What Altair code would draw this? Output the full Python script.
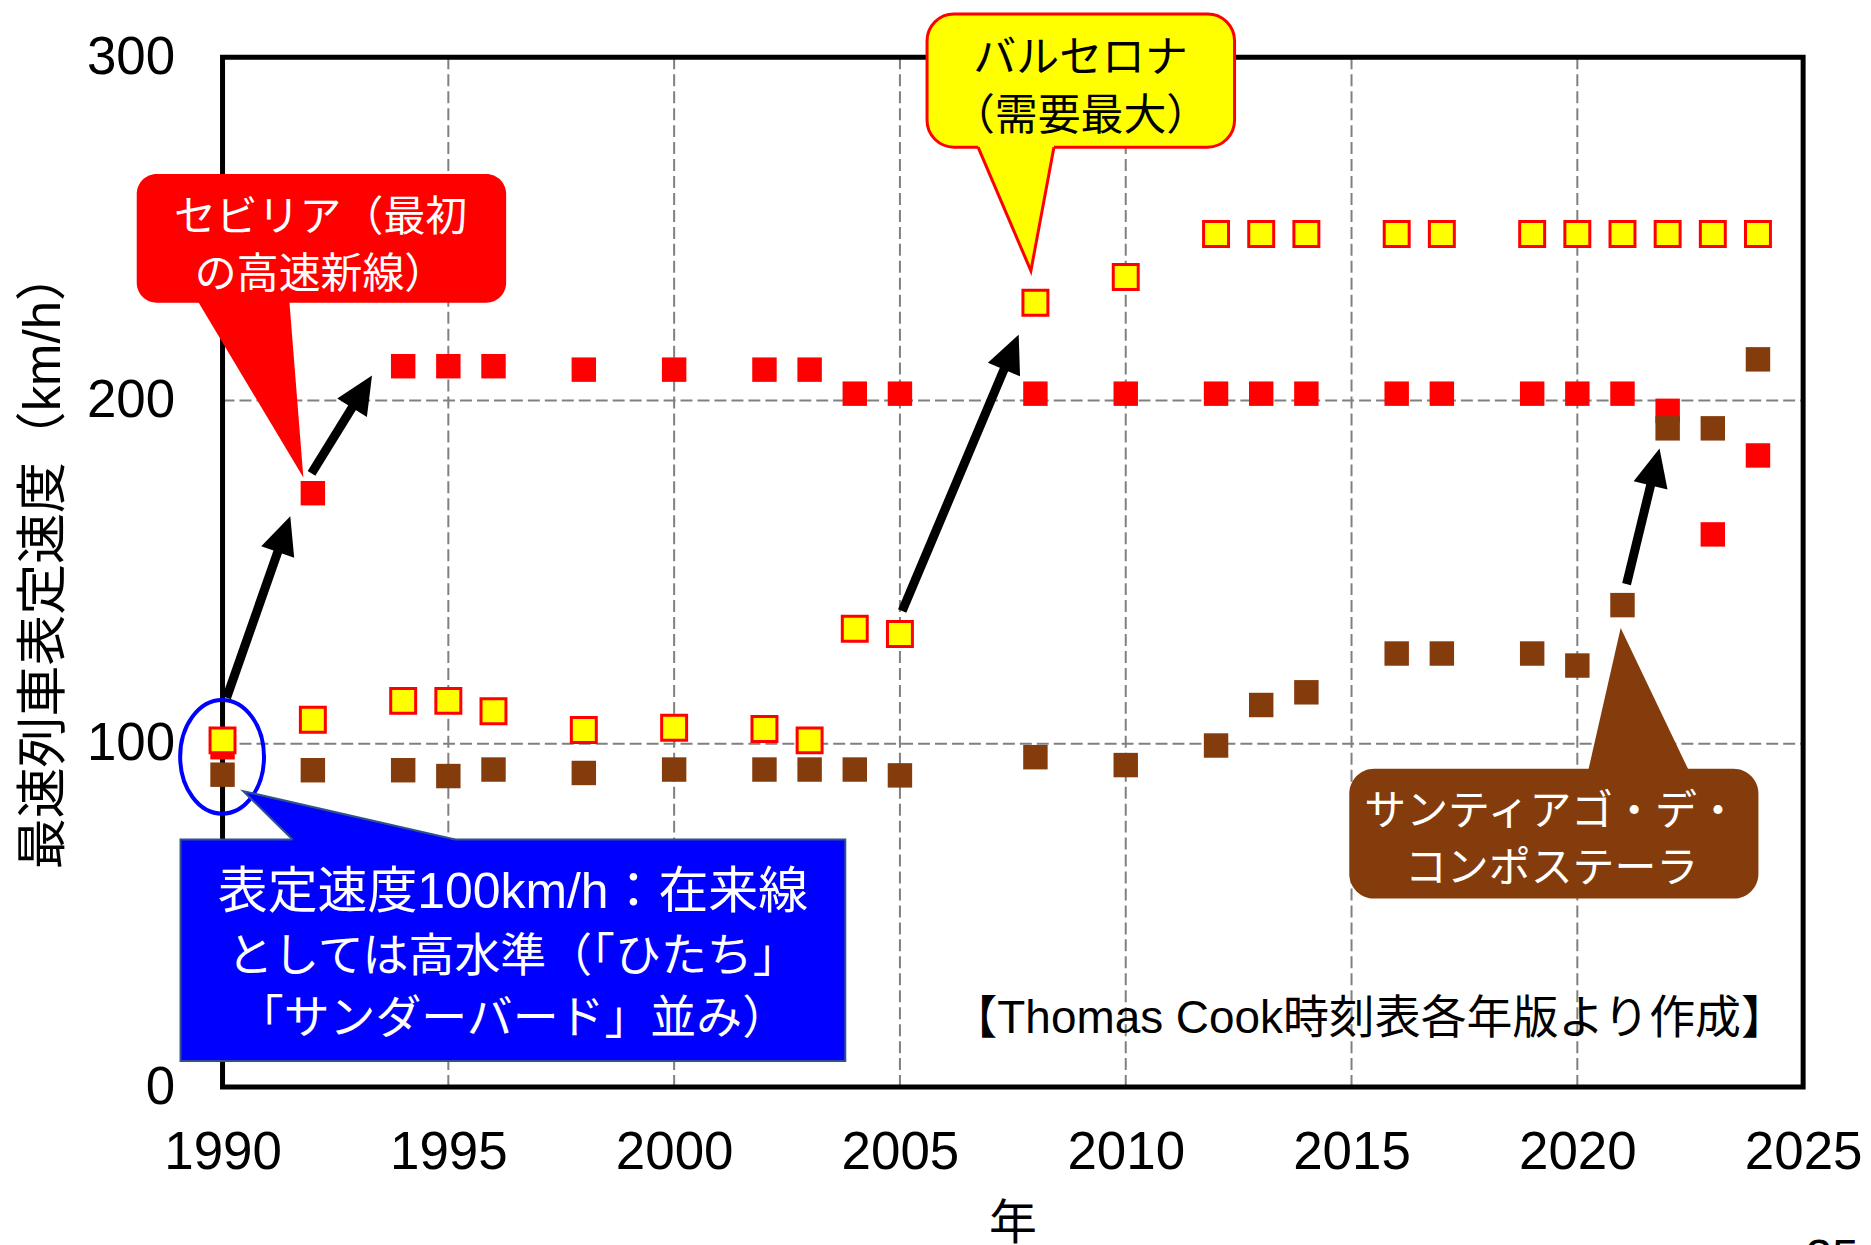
import math
import altair as alt
import pandas as pd

# ---------------- data ----------------
years = [1990, 1992, 1994, 1995, 1996, 1998, 2000, 2002, 2003, 2004, 2005, 2008, 2010,
         2012, 2013, 2014, 2016, 2017, 2019, 2020, 2021, 2022, 2023, 2024]
seville = [99, 173, 210, 210, 210, 209, 209, 209, 209, 202, 202, 202, 202,
           202, 202, 202, 202, 202, 202, 202, 202, 197, 161, 184]
barcelona = [101, 107, 112.5, 112.5, 109.5, 104, 104.7, 104.3, 101, 133.5, 132, 228.5, 236,
             248.5, 248.5, 248.5, 248.5, 248.5, 248.5, 248.5, 248.5, 248.5, 248.5, 248.5]
santiago = [91, 92.3, 92.3, 90.6, 92.5, 91.5, 92.5, 92.5, 92.5, 92.5, 90.8, 96.1, 93.8,
            99.5, 111.3, 115, 126.3, 126.3, 126.3, 122.8, 140.4, 191.9, 191.9, 212]

x_ticks = [1990, 1995, 2000, 2005, 2010, 2015, 2020, 2025]
y_ticks = [0, 100, 200, 300]
grid_years = [1995, 2000, 2005, 2010, 2015, 2020]
grid_values = [100, 200]

# annotation texts
red_lines = ["セビリア（最初", "の高速新線）"]
yellow_lines = ["バルセロナ", "（需要最大）"]
blue_lines = ["表定速度100km/h：在来線", "としては高水準（「ひたち」", "「サンダーバード」並み）"]
brown_lines = ["サンティアゴ・デ・", "コンポステーラ"]
source_text = "【Thomas Cook時刻表各年版より作成】"
x_title = "年"
y_title = "最速列車表定速度（km/h）"
page_no = "25"

# annotation anchors (data units: year, km/h)
red_text_x, red_text_y = 1992.17, [253.3, 236.7]
yellow_text_x, yellow_text_y = 2009.0, [299.4, 282.6]
blue_text_x, blue_text_y = 1996.43, [56.5, 37.9, 19.9]
brown_text_x, brown_text_y = 2019.43, [80.1, 63.5]
source_x, source_y = 2015.39, 19.7

boxes = {
    "red": [1988.10, 1996.28, 266.0, 228.5],
    "yellow": [2005.60, 2012.41, 312.6, 273.8],
    "blue": [1989.07, 2003.79, 72.1, 7.6],
    "brown": [2014.95, 2024.01, 92.7, 54.9],
}
# pointer rows: (y, x_left, x_right)
pointers = {
    "red": [(230.5, 1989.38, 1991.47), (177.6, 1991.79, 1991.79)],
    "yellow": [(275.3, 2006.73, 2008.41), (273.8, 2006.73, 2008.41), (237.8, 2007.90, 2007.90)],
    "blue": [(70.6, 1991.55, 1995.15), (72.1, 1991.55, 1995.15), (86.2, 1990.46, 1990.46)],
    "brown": [(91.3, 2020.25, 2022.45), (92.7, 2020.25, 2022.45), (133.7, 2020.96, 2020.96)],
}
yellow_outline = [(2006.73, 273.8), (2007.90, 237.8), (2008.41, 273.8)]
blue_outline = [(1991.55, 72.1), (1990.46, 86.2), (1995.15, 72.1)]

ellipse_center = (1989.99, 96.2)

arrow_x0 = [1990.09, 1991.97, 2005.05, 2021.09]
arrow_y0 = [113.4, 178.8, 138.7, 146.5]
arrow_x1 = [1991.50, 1993.31, 2007.63, 2021.82]
arrow_y1 = [166.3, 207.3, 219.2, 186.0]

# ---------------- styles ----------------
W, H = 1584, 1032
XMIN, XMAX, YMIN, YMAX = 1990, 2025, 0, 300
PX_X = W / (XMAX - XMIN)
PX_Y = H / (YMAX - YMIN)
FONT = "Liberation Sans, Noto Sans CJK JP"
RED, YELLOW, BLUE, BROWN = "#FF0000", "#FFFF00", "#0000FF", "#843C0C"

xs = alt.Scale(domain=[XMIN, XMAX], nice=False, zero=False)
ys = alt.Scale(domain=[YMIN, YMAX], nice=False, zero=False)

xaxis = alt.Axis(values=x_ticks, format="d", grid=False, ticks=False, domain=False,
                 labelFont="Liberation Sans", labelFontSize=53, labelColor="black",
                 labelPadding=40, labelFlush=False, labelOverlap=False,
                 title=x_title, titleFont=FONT, titleFontSize=48, titleFontWeight="normal",
                 titleColor="black", titleX=791.5, titleY=137.8, titleBaseline="middle",
                 titleAlign="center")
yaxis = alt.Axis(values=y_ticks, grid=False, ticks=False, domain=False,
                 labelFont="Liberation Sans", labelFontSize=53, labelColor="black",
                 labelPadding=48, labelFlush=False, labelOverlap=False,
                 title=y_title, titleFont=FONT, titleFontSize=51, titleFontWeight="normal",
                 titleColor="black", titleAngle=270, titleX=-178, titleY=503,
                 titleBaseline="middle", titleAlign="center")


def X(f, **kw):
    return alt.X(f, type="quantitative", scale=xs, axis=xaxis, **kw)


def Y(f, **kw):
    return alt.Y(f, type="quantitative", scale=ys, axis=yaxis, **kw)


# ---------------- layers ----------------
layers = []

# grid
gv = pd.DataFrame({"x": grid_years, "y0": [YMIN] * len(grid_years), "y1": [YMAX] * len(grid_years)})
layers.append(alt.Chart(gv).mark_rule(color="#808080", strokeWidth=2, strokeDash=[12, 5]).encode(
    x=X("x"), y=Y("y0"), y2="y1"))
gh = pd.DataFrame({"y": grid_values, "x0": [XMIN] * 2, "x1": [XMAX] * 2})
layers.append(alt.Chart(gh).mark_rule(color="#808080", strokeWidth=2, strokeDash=[12, 5]).encode(
    y=Y("y"), x=X("x0"), x2="x1"))

# border
bd = pd.DataFrame({"x0": [XMIN], "x1": [XMAX], "y0": [YMIN], "y1": [YMAX]})
layers.append(alt.Chart(bd).mark_rect(filled=False, stroke="black", strokeWidth=5).encode(
    x=X("x0"), x2="x1", y=Y("y0"), y2="y1"))

# series
df_red = pd.DataFrame({"year": years, "value": seville})
df_yel = pd.DataFrame({"year": years, "value": barcelona})
df_brn = pd.DataFrame({"year": years, "value": santiago})

layers.append(alt.Chart(df_red).mark_point(shape="square", filled=True, size=600, opacity=1,
                                           color=RED, strokeWidth=0).encode(
    x=X("year"), y=Y("value")))
layers.append(alt.Chart(df_yel).mark_point(shape="square", filled=True, size=625, opacity=1,
                                           fill=YELLOW, stroke=RED, strokeWidth=3).encode(
    x=X("year"), y=Y("value")))
layers.append(alt.Chart(df_brn).mark_point(shape="square", filled=True, size=600, opacity=1,
                                           color=BROWN, strokeWidth=0).encode(
    x=X("year"), y=Y("value")))

# blue ellipse
ELLIPSE = ("M0.737,0C0.737,0.552,0.407,1,0,1C-0.407,1,-0.737,0.552,-0.737,0"
           "C-0.737,-0.552,-0.407,-1,0,-1C0.407,-1,0.737,-0.552,0.737,0Z")
el = pd.DataFrame({"x": [ellipse_center[0]], "y": [ellipse_center[1]]})
layers.append(alt.Chart(el).mark_point(shape=ELLIPSE, filled=False, size=114 ** 2, opacity=1,
                                       stroke=BLUE, strokeWidth=4).encode(x=X("x"), y=Y("y")))

# arrows
HEAD = 38
shaft_rows, head_rows = [], []
for x0, y0, x1, y1 in zip(arrow_x0, arrow_y0, arrow_x1, arrow_y1):
    dxp = (x1 - x0) * PX_X
    dyp = -(y1 - y0) * PX_Y
    L = math.hypot(dxp, dyp)
    ux, uy = dxp / L, dyp / L
    ang = math.degrees(math.atan2(ux, -uy)) % 360
    hx = x1 - (HEAD / 2) * ux / PX_X
    hy = y1 + (HEAD / 2) * uy / PX_Y
    sx = x1 - (HEAD * 0.75) * ux / PX_X
    sy = y1 + (HEAD * 0.75) * uy / PX_Y
    shaft_rows.append({"x": x0, "y": y0, "x2": sx, "y2": sy})
    head_rows.append({"x": hx, "y": hy, "angle": ang})
layers.append(alt.Chart(pd.DataFrame(shaft_rows)).mark_rule(color="black", strokeWidth=9,
                                                            strokeCap="butt").encode(
    x=X("x"), y=Y("y"), x2="x2", y2="y2"))
HEADPATH = "M0,-1L0.92,1L-0.92,1Z"
layers.append(alt.Chart(pd.DataFrame(head_rows)).mark_point(shape=HEADPATH, filled=True,
                                                            size=HEAD ** 2, opacity=1,
                                                            color="black", strokeWidth=0).encode(
    x=X("x"), y=Y("y"), angle=alt.Angle("angle:Q", scale=None)))

# callout boxes
box_style = {
    "red": dict(color=RED, cornerRadius=20),
    "yellow": dict(fill=YELLOW, stroke=RED, strokeWidth=3, cornerRadius=27),
    "blue": dict(fill=BLUE, stroke="#2F528F", strokeWidth=2, cornerRadius=0),
    "brown": dict(color=BROWN, cornerRadius=25),
}
fill_of = {"red": RED, "yellow": YELLOW, "blue": BLUE, "brown": BROWN}
for k, (bx0, bx1, by0, by1) in boxes.items():
    d = pd.DataFrame({"x": [bx0], "x2": [bx1], "y": [by0], "y2": [by1]})
    layers.append(alt.Chart(d).mark_rect(opacity=1, **box_style[k]).encode(
        x=X("x"), x2="x2", y=Y("y"), y2="y2"))
    p = pd.DataFrame(pointers[k], columns=["y", "xl", "xr"])
    layers.append(alt.Chart(p).mark_area(orient="horizontal", color=fill_of[k], opacity=1,
                                         strokeWidth=0).encode(
        y=Y("y"), x=X("xl"), x2="xr"))

for pts, col, sw in [(yellow_outline, RED, 3), (blue_outline, "#2F528F", 2)]:
    d = pd.DataFrame({"x": [p[0] for p in pts], "y": [p[1] for p in pts], "o": list(range(len(pts)))})
    layers.append(alt.Chart(d).mark_line(color=col, strokeWidth=sw, strokeJoin="miter").encode(
        x=X("x"), y=Y("y"), order=alt.Order("o:Q")))


# texts
def text_layer(lines, x, ys_, size, color):
    d = pd.DataFrame({"x": [x] * len(lines), "y": ys_, "t": lines})
    return alt.Chart(d).mark_text(font=FONT, fontSize=size, color=color, align="center",
                                  baseline="middle").encode(x=X("x"), y=Y("y"), text="t:N")


layers.append(text_layer(red_lines, red_text_x, red_text_y, 42, "white"))
layers.append(text_layer(yellow_lines, yellow_text_x, yellow_text_y, 43, "black"))
layers.append(text_layer(blue_lines[:1], blue_text_x, blue_text_y[:1], 50, "white"))
layers.append(text_layer(blue_lines[1:], blue_text_x, blue_text_y[1:], 46, "white"))
layers.append(text_layer(brown_lines, brown_text_x, brown_text_y, 42, "white"))
layers.append(text_layer([source_text], source_x, [source_y], 46, "black"))

pg = pd.DataFrame({"x": [2025.64], "y": [-43.1], "t": [page_no]})
layers.append(alt.Chart(pg).mark_text(font="Liberation Sans", fontSize=48, color="black",
                                      align="center", baseline="top").encode(
    x=X("x"), y=Y("y"), text="t:N"))

chart = alt.layer(*layers).properties(
    width=W, height=H,
    padding={"left": 215, "top": 48, "right": 60, "bottom": 202},
    autosize=alt.AutoSizeParams(type="none"),
).configure_view(strokeWidth=0).configure(background="white")

chart.save("out.html", embed_options={"renderer": "svg", "actions": False})
